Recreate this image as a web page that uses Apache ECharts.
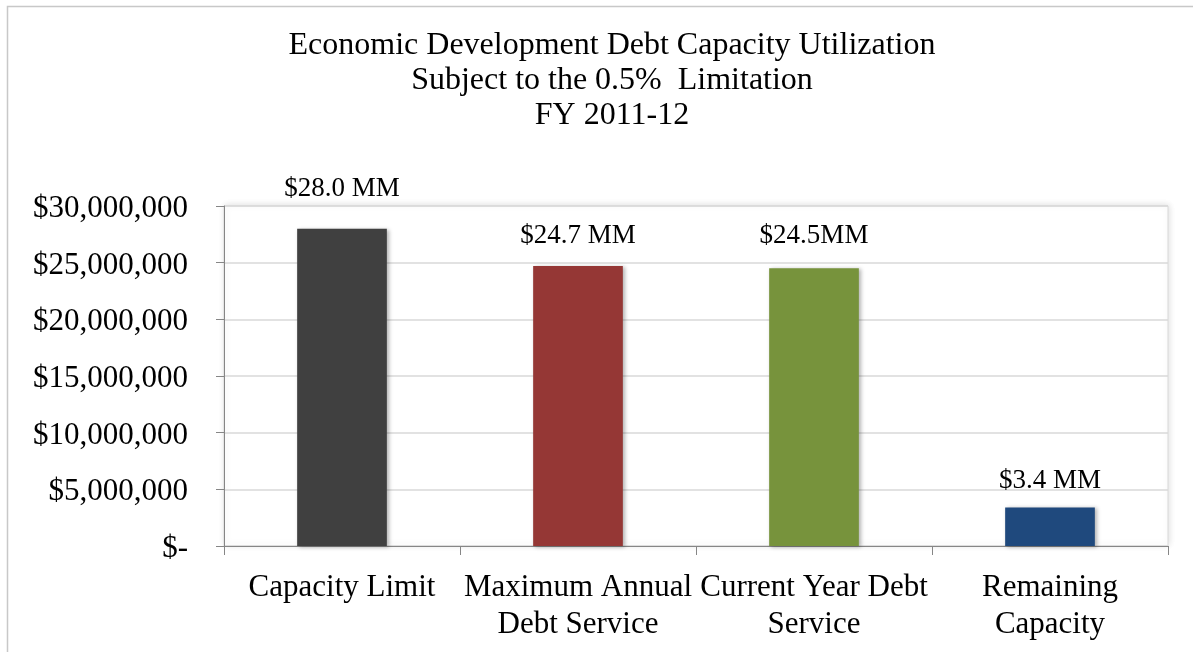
<!DOCTYPE html>
<html>
<head>
<meta charset="utf-8">
<title>Economic Development Debt Capacity Utilization</title>
<script src="https://cdn.jsdelivr.net/npm/echarts@6/dist/echarts.min.js"></script>
<style>
  html, body { margin: 0; padding: 0; background: #ffffff; }
  #chart { width: 1193px; height: 652px; }
</style>
</head>
<body>
<div id="chart"></div>
<script>
// Debt capacity figures, FY 2011-12 (dollars)
const categories = [
  'Capacity Limit',
  'Maximum Annual\nDebt Service',
  'Current Year Debt\nService',
  'Remaining\nCapacity'
];
const amounts = [28000000, 24700000, 24500000, 3400000];
const valueLabels = ['$28.0 MM', '$24.7 MM', '$24.5MM', '$3.4 MM'];
const barColors = ['#404040', '#953735', '#77933C', '#1F497D'];
const titleLines = [
  'Economic Development Debt Capacity Utilization',
  'Subject to the 0.5%  Limitation',
  'FY 2011-12'
];

// gap between each bar top and its value label
const labelGaps = [25, 15, 17, 12];

const serif = '"Liberation Serif", "Times New Roman", serif';

const chart = echarts.init(document.getElementById('chart'));

chart.setOption({
  animation: false,
  backgroundColor: '#ffffff',
  textStyle: { fontFamily: serif, color: '#000000' },
  graphic: [{
    type: 'rect',
    left: 5,
    top: 4,
    shape: { width: 1200, height: 700 },
    style: { fill: 'none', stroke: '#c8c8c8', lineWidth: 1.5 },
    silent: true,
    z: -10
  }],
  title: {
    text: titleLines.join('\n'),
    left: 612,
    top: 28,
    textAlign: 'center',
    padding: 0,
    textStyle: {
      fontFamily: serif,
      fontSize: 32,
      fontWeight: 'normal',
      color: '#000000',
      lineHeight: 35
    }
  },
  grid: {
    left: 224,
    right: 25,
    top: 206,
    bottom: 106,
    show: true,
    backgroundColor: '#ffffff',
    borderColor: '#d9d9d9',
    borderWidth: 1,
    shadowColor: 'rgba(0,0,0,0.12)',
    shadowBlur: 6,
    shadowOffsetX: 1,
    shadowOffsetY: -1
  },
  xAxis: {
    type: 'category',
    data: categories,
    axisLine: { lineStyle: { color: '#868686', width: 1 } },
    axisTick: { show: true, length: 9, lineStyle: { color: '#868686' } },
    axisLabel: {
      interval: 0,
      margin: 23,
      fontFamily: serif,
      fontSize: 31,
      lineHeight: 37,
      color: '#000000'
    }
  },
  yAxis: {
    type: 'value',
    min: 0,
    max: 30000000,
    interval: 5000000,
    axisLine: { show: true, lineStyle: { color: '#868686', width: 1 } },
    axisTick: { show: true, length: 8, lineStyle: { color: '#868686' } },
    splitLine: { show: true, lineStyle: { color: '#d9d9d9', width: 1.5 } },
    axisLabel: {
      margin: 36,
      fontFamily: serif,
      fontSize: 31,
      color: '#000000',
      formatter: function (v) {
        const txt = v === 0 ? '$-' : '$' + v.toLocaleString('en-US');
        return '{v|' + txt + '}';
      },
      rich: {
        v: {
          fontFamily: serif,
          fontSize: 31,
          color: '#000000',
          padding: [6, 0, 0, 0]
        }
      }
    }
  },
  series: [{
    type: 'bar',
    barWidth: '38%',
    data: amounts.map(function (v, i) {
      return {
        value: v,
        itemStyle: { color: barColors[i] },
        label: { distance: labelGaps[i] }
      };
    }),
    itemStyle: {
      shadowColor: 'rgba(0,0,0,0.3)',
      shadowBlur: 4,
      shadowOffsetX: 2,
      shadowOffsetY: 1
    },
    label: {
      show: true,
      position: 'top',
      fontFamily: serif,
      fontSize: 27,
      lineHeight: 30,
      color: '#000000',
      formatter: function (p) { return valueLabels[p.dataIndex]; }
    }
  }]
});
</script>
</body>
</html>
